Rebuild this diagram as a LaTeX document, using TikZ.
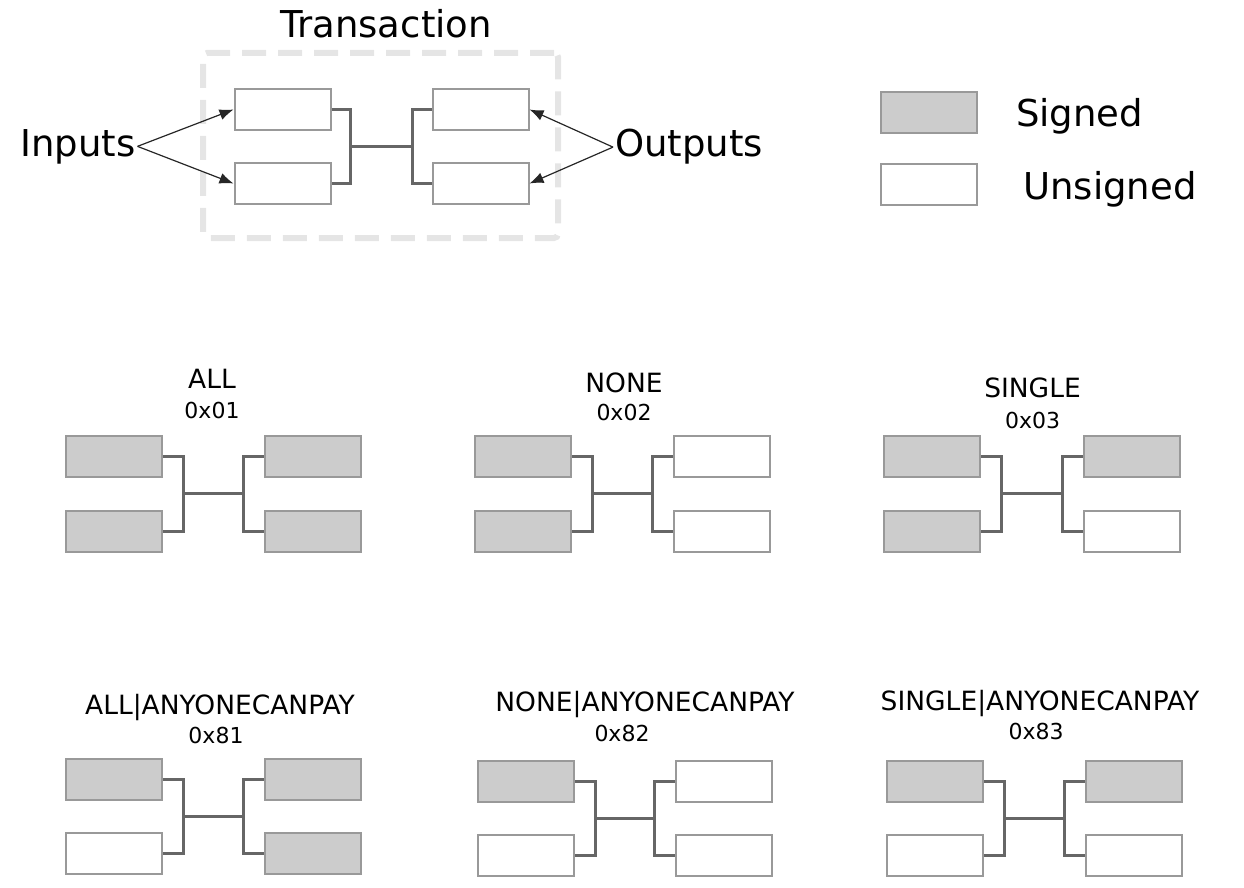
\documentclass[tikz,border=0pt]{standalone}
\usepackage{fontspec}
\setmainfont{DejaVu Sans}
\usetikzlibrary{arrows.meta, positioning}
\tikzset{
    signed/.style={
        draw=black!40,
        fill=black!20,
        line width=2pt,
        minimum width=96pt,
        minimum height=41pt,
        inner sep=0pt
    },
    unsigned/.style={
        signed,
        fill=white
    },
    bracket/.style={draw=black!60, line width=3pt},
    pointer/.style={-{Latex[length=14pt,width=11pt]}, line width=1.2pt, black!85},
    bigtext/.style={font=\fontsize{37}{44}\selectfont, inner sep=2pt},
    modetext/.style={font=\fontsize{26.5}{32}\selectfont, anchor=base, inner sep=0pt},
    codetext/.style={font=\fontsize{22}{26}\selectfont, anchor=base, inner sep=0pt}
}

\begin{document}
\begin{tikzpicture}[
    x=1pt,y=-1pt,
    txframe/.style={
        draw=black!10,
        line width=6pt,
        dash pattern=on 24pt off 12pt,
        rounded corners=4pt,
        minimum width=355pt,
        minimum height=185pt
    }
]
\useasboundingbox (0,0) rectangle (1244,888);

% transaction
\node[txframe] (tx) at (380.5,145.5) {};
\node[bigtext, anchor=base] (title) at (386,38) {Transaction};
\node[unsigned] (txin1) at (282.5,109.5) {};
\node[unsigned] (txin2) at (282.5,183.5) {};
\node[unsigned] (txout1) at (480.5,109.5) {};
\node[unsigned] (txout2) at (480.5,183.5) {};
\coordinate (txL) at (350,146.5);
\coordinate (txR) at (412,146.5);
\draw[bracket] (txin1.east) -| (txL) |- (txin2.east);
\draw[bracket] (txout1.west) -| (txR) |- (txout2.west);
\draw[bracket] (txL) -- (txR);

% inputs and outputs
\node[bigtext, anchor=base west] (inputs) at (18,156) {Inputs};
\node[bigtext, anchor=base west] (outputs) at (613,157) {Outputs};
\draw[pointer] (inputs.east) -- (txin1.west);
\draw[pointer] (inputs.east) -- (txin2.west);
\draw[pointer] (outputs.west) -- (txout1.east);
\draw[pointer] (outputs.west) -- (txout2.east);

% legend
\node[signed] (keysigned) at (929,112.5) {};
\node[unsigned] (keyunsigned) at (929,184.5) {};
\node[bigtext, anchor=base west] (signedtext) at (1014,127) {Signed};
\node[bigtext, anchor=base west] (unsignedtext) at (1021,199) {Unsigned};

% ALL
\node[modetext] (all) at (212,388) {ALL};
\node[codetext] (allcode) at (212,418) {0x01};
\node[signed] (allin1) at (113.5,456.5) {};
\node[signed] (allin2) at (113.5,531) {};
\node[signed] (allout1) at (312.5,456.5) {};
\node[signed] (allout2) at (312.5,531) {};
\coordinate (allL) at (183,493);
\coordinate (allR) at (243,493);
\draw[bracket] (allin1.east) -| (allL) |- (allin2.east);
\draw[bracket] (allout1.west) -| (allR) |- (allout2.west);
\draw[bracket] (allL) -- (allR);

% NONE
\node[modetext] (none) at (624,392) {NONE};
\node[codetext] (nonecode) at (624,420) {0x02};
\node[signed] (nonein1) at (523,456.5) {};
\node[signed] (nonein2) at (523,531) {};
\node[unsigned] (noneout1) at (722,456.5) {};
\node[unsigned] (noneout2) at (722,531) {};
\coordinate (noneL) at (592,493);
\coordinate (noneR) at (652,493);
\draw[bracket] (nonein1.east) -| (noneL) |- (nonein2.east);
\draw[bracket] (noneout1.west) -| (noneR) |- (noneout2.west);
\draw[bracket] (noneL) -- (noneR);

% SINGLE
\node[modetext] (single) at (1032.5,397) {SINGLE};
\node[codetext] (singlecode) at (1032.5,428) {0x03};
\node[signed] (singlein1) at (932,456.5) {};
\node[signed] (singlein2) at (932,531) {};
\node[signed] (singleout1) at (1131.5,456.5) {};
\node[unsigned] (singleout2) at (1131.5,531) {};
\coordinate (singleL) at (1001,493);
\coordinate (singleR) at (1062,493);
\draw[bracket] (singlein1.east) -| (singleL) |- (singlein2.east);
\draw[bracket] (singleout1.west) -| (singleR) |- (singleout2.west);
\draw[bracket] (singleL) -- (singleR);

% ALL|ANYONECANPAY
\node[modetext] (allacp) at (220,714) {ALL|ANYONECANPAY};
\node[codetext] (allacpcode) at (216,743) {0x81};
\node[signed] (allacpin1) at (114,779.5) {};
\node[unsigned] (allacpin2) at (114,853.5) {};
\node[signed] (allacpout1) at (312.5,779.5) {};
\node[signed] (allacpout2) at (312.5,853.5) {};
\coordinate (allacpL) at (183,816);
\coordinate (allacpR) at (243,816);
\draw[bracket] (allacpin1.east) -| (allacpL) |- (allacpin2.east);
\draw[bracket] (allacpout1.west) -| (allacpR) |- (allacpout2.west);
\draw[bracket] (allacpL) -- (allacpR);

% NONE|ANYONECANPAY
\node[modetext] (noneacp) at (645,711) {NONE|ANYONECANPAY};
\node[codetext] (noneacpcode) at (622,741) {0x82};
\node[signed] (noneacpin1) at (526,781.5) {};
\node[unsigned] (noneacpin2) at (526,855.5) {};
\node[unsigned] (noneacpout1) at (724,781.5) {};
\node[unsigned] (noneacpout2) at (724,855.5) {};
\coordinate (noneacpL) at (595,818);
\coordinate (noneacpR) at (654,818);
\draw[bracket] (noneacpin1.east) -| (noneacpL) |- (noneacpin2.east);
\draw[bracket] (noneacpout1.west) -| (noneacpR) |- (noneacpout2.west);
\draw[bracket] (noneacpL) -- (noneacpR);

% SINGLE|ANYONECANPAY
\node[modetext] (singleacp) at (1040,710) {SINGLE|ANYONECANPAY};
\node[codetext] (singleacpcode) at (1036,739) {0x83};
\node[signed] (singleacpin1) at (935,781.5) {};
\node[unsigned] (singleacpin2) at (935,855.5) {};
\node[signed] (singleacpout1) at (1133.5,781.5) {};
\node[unsigned] (singleacpout2) at (1133.5,855.5) {};
\coordinate (singleacpL) at (1004,818);
\coordinate (singleacpR) at (1064,818);
\draw[bracket] (singleacpin1.east) -| (singleacpL) |- (singleacpin2.east);
\draw[bracket] (singleacpout1.west) -| (singleacpR) |- (singleacpout2.west);
\draw[bracket] (singleacpL) -- (singleacpR);

\end{tikzpicture}
\end{document}
